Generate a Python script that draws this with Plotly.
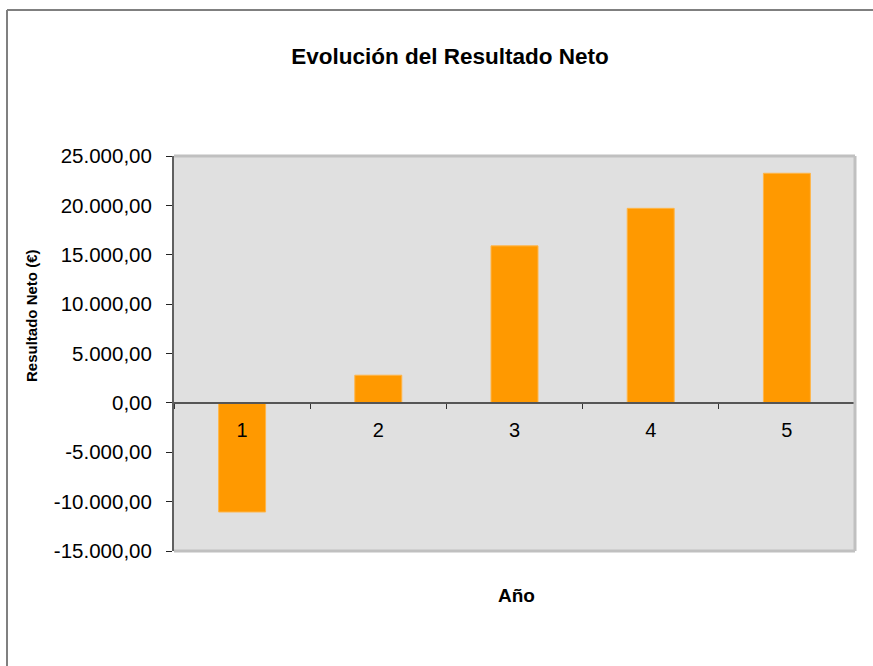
import plotly.graph_objects as go

years = ["1", "2", "3", "4", "5"]
net_result = [-11050, 2800, 15900, 19700, 23250]
y_tickvals = [-15000, -10000, -5000, 0, 5000, 10000, 15000, 20000, 25000]
y_ticktext = ["-15.000,00", "-10.000,00", "-5.000,00", "0,00", "5.000,00",
              "10.000,00", "15.000,00", "20.000,00", "25.000,00"]
y_min, y_max = -15000, 25000

FONT = "Arial, Liberation Sans, sans-serif"
W, H = 873, 666
L, R, T, B = 174, 18, 156, 115
PW, PH = W - L - R, H - T - B

def px_x(px):
    return (px - L) / PW

def px_y(py):
    return (H - B - py) / PH

fig = go.Figure()
fig.add_trace(go.Bar(
    x=years, y=net_result,
    marker=dict(color="#FF9900", line=dict(color="#FFB648", width=1)),
))

zero_pos = (0 - y_min) / (y_max - y_min)

fig.update_layout(
    width=W, height=H,
    margin=dict(l=L, r=R, t=T, b=B),
    paper_bgcolor="white",
    plot_bgcolor="#E0E0E0",
    bargap=0.655,
    showlegend=False,
    font=dict(family=FONT, color="black"),
    title=dict(text="<b>Evolución del Resultado Neto</b>", font=dict(size=22.5, family=FONT, color="black"),
               x=450 / W, xref="container", xanchor="center",
               y=1 - 56 / H, yref="container", yanchor="middle"),
    xaxis=dict(type="category", anchor="free", position=zero_pos,
               showline=True, linecolor="#555555", linewidth=2,
               ticks="outside", ticklen=5, tickcolor="#333333", tickwidth=1,
               tickson="boundaries", showgrid=False, zeroline=False,
               ticklabelstandoff=9,
               tickfont=dict(size=20, family=FONT, color="black")),
    yaxis=dict(range=[y_min, y_max], tickvals=y_tickvals, ticktext=y_ticktext,
               showline=True, linecolor="#606060", linewidth=2,
               ticks="outside", ticklen=6, tickcolor="#222222", tickwidth=1,
               showgrid=False, zeroline=False,
               ticklabelstandoff=10,
               tickfont=dict(size=20.5, family=FONT, color="black")),
)

border = dict(color="#C0C0C0", width=3)
fig.add_shape(type="line", xref="paper", yref="paper", x0=0, x1=1, y0=1, y1=1, line=border)
fig.add_shape(type="line", xref="paper", yref="paper", x0=1, x1=1, y0=0, y1=1, line=border)
fig.add_shape(type="line", xref="paper", yref="paper", x0=0, x1=1, y0=0, y1=0, line=border)

# outer chart frame
fig.add_shape(type="line", xref="paper", yref="paper", x0=px_x(7), x1=px_x(880), y0=px_y(10), y1=px_y(10),
              line=dict(color="black", width=1))
fig.add_shape(type="line", xref="paper", yref="paper", x0=px_x(7), x1=px_x(7), y0=px_y(10), y1=px_y(680),
              line=dict(color="#808080", width=2))

fig.add_annotation(text="<b>Año</b>", xref="paper", yref="paper", x=px_x(516.5), y=px_y(595),
                   xanchor="center", yanchor="middle", showarrow=False,
                   font=dict(size=19, family=FONT, color="black"))
fig.add_annotation(text="<b>Resultado Neto (€)</b>", xref="paper", yref="paper", x=px_x(31), y=px_y(316),
                   xanchor="center", yanchor="middle", showarrow=False, textangle=-90,
                   font=dict(size=15, family=FONT, color="black"))

fig.write_html("out.html", config={"displayModeBar": False},
               post_script="document.body.style.margin='0';")
